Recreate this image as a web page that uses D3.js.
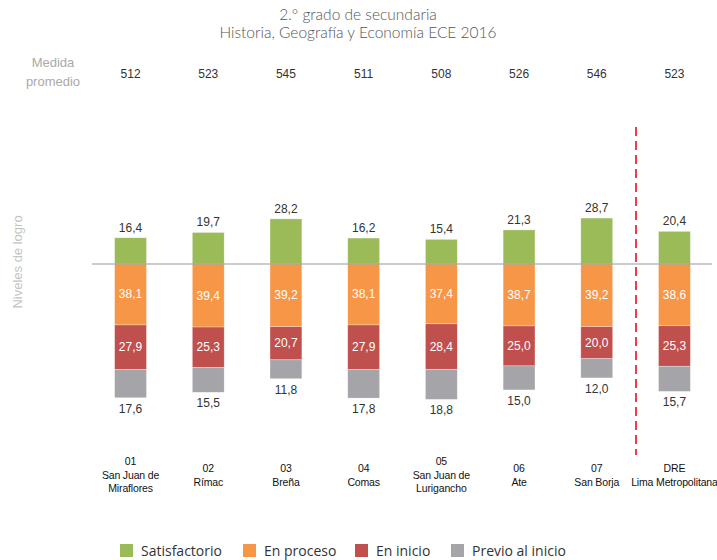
<!DOCTYPE html>
<html>
<head>
<meta charset="utf-8">
<script src="https://cdn.jsdelivr.net/npm/d3@7"></script>
<style>
  body { margin: 0; background: #fff; }
  svg { display: block; }
</style>
</head>
<body>
<div id="chart"></div>
<script>
// Data
const codes = ["01", "02", "03", "04", "05", "06", "07", "DRE"];
const names = [
    ["San Juan de", "Miraflores"],
    ["Rímac"],
    ["Breña"],
    ["Comas"],
    ["San Juan de", "Lurigancho"],
    ["Ate"],
    ["San Borja"],
    ["Lima Metropolitana"]
];
const means = [512, 523, 545, 511, 508, 526, 546, 523];
const satisfactorio = [16.4, 19.7, 28.2, 16.2, 15.4, 21.3, 28.7, 20.4];
const enProceso = [38.1, 39.4, 39.2, 38.1, 37.4, 38.7, 39.2, 38.6];
const enInicio = [27.9, 25.3, 20.7, 27.9, 28.4, 25.0, 20.0, 25.3];
const previo = [17.6, 15.5, 11.8, 17.8, 18.8, 15.0, 12.0, 15.7];

const legendNames = ["Satisfactorio", "En proceso", "En inicio", "Previo al inicio"];
const colors = ["#9bbb59", "#f79646", "#c0504d", "#a5a5a9"];

// Svg size
const svgWidth = 717;
const svgHeight = 560;

const fmt = v => v.toFixed(1).replace(".", ",");

const svg = d3.select("#chart")
              .append("svg")
              .attr("width", svgWidth)
              .attr("height", svgHeight);

// Scales
const xScale = d3.scaleBand()
                 .domain(codes)
                 .range([91.7, 713.3])
                 .paddingInner(0.59)
                 .paddingOuter(0.295);

// positive values go up, negative go down
const yScale = d3.scaleLinear()
                 .domain([40, -100])
                 .range([200, 424]);

// Title
svg.append("g")
   .selectAll("text")
   .data(["2.\u00b0 grado de secundaria", "Historia, Geografía y Economía ECE 2016"])
   .enter()
   .append("text")
   .attr("x", 358)
   .attr("y", (d, i) => 20 + i * 18)
   .attr("text-anchor", "middle")
   .style("font-family", "Lato, sans-serif")
   .style("font-size", "15.5px")
   .style("font-weight", 300)
   .style("fill", "#555")
   .text(d => d);

// Medida promedio
svg.append("g")
   .selectAll("text")
   .data(["Medida", "promedio"])
   .enter()
   .append("text")
   .attr("x", 53)
   .attr("y", (d, i) => 67 + i * 19)
   .attr("text-anchor", "middle")
   .style("font-family", "'Liberation Sans', Arial, sans-serif")
   .style("font-size", "13px")
   .style("fill", "#aaa")
   .text(d => d);

svg.append("g")
   .selectAll("text")
   .data(means)
   .enter()
   .append("text")
   .attr("x", (d, i) => xScale(codes[i]) + xScale.bandwidth() / 2)
   .attr("y", 78)
   .attr("text-anchor", "middle")
   .style("font-family", "'Liberation Sans', Arial, sans-serif")
   .style("font-size", "12px")
   .style("fill", "#333")
   .text(d => d);

// Y label
svg.append("text")
   .attr("transform", `translate(22, 262) rotate(-90)`)
   .attr("text-anchor", "middle")
   .style("font-family", "'Liberation Sans', Arial, sans-serif")
   .style("font-size", "13px")
   .style("fill", "#c4c4c4")
   .text("Niveles de logro");

// Build stacked segments: green above zero, others below
const segments = [];
codes.forEach((c, i) => {
    segments.push({code: c, y0: 0, y1: satisfactorio[i], k: 0, v: satisfactorio[i]});
    let acc = 0;
    [enProceso, enInicio, previo].forEach((arr, j) => {
        segments.push({code: c, y0: -acc, y1: -(acc + arr[i]), k: j + 1, v: arr[i]});
        acc += arr[i];
    });
});

const bars = svg.append("g");
bars.selectAll("rect")
    .data(segments)
    .enter()
    .append("rect")
    .attr("x", d => xScale(d.code))
    .attr("width", xScale.bandwidth())
    .attr("y", d => yScale(Math.max(d.y0, d.y1)))
    .attr("height", d => Math.abs(yScale(d.y0) - yScale(d.y1)))
    .attr("fill", d => colors[d.k])
    .attr("stroke", "#fff")
    .attr("stroke-opacity", 0.5)
    .attr("stroke-width", 0.6);

// Labels
bars.selectAll("text")
    .data(segments)
    .enter()
    .append("text")
    .attr("x", d => xScale(d.code) + xScale.bandwidth() / 2)
    .attr("y", d => {
        if (d.k === 0) return yScale(d.y1) - 6;
        if (d.k === 3) return yScale(d.y1) + 15;
        return (yScale(d.y0) + yScale(d.y1)) / 2 + 4;
    })
    .attr("text-anchor", "middle")
    .style("font-family", "'Liberation Sans', Arial, sans-serif")
    .style("font-size", "12px")
    .style("fill", d => (d.k === 1 || d.k === 2) ? "#fff" : "#333")
    .text(d => fmt(d.v));

// Baseline
svg.append("line")
   .attr("x1", 92)
   .attr("x2", 712)
   .attr("y1", yScale(0))
   .attr("y2", yScale(0))
   .attr("stroke", "#999")
   .attr("stroke-width", 1);

// Red dashed separator
svg.append("line")
   .attr("x1", 636)
   .attr("x2", 636)
   .attr("y1", 127)
   .attr("y2", 455)
   .attr("stroke", "#f03c4a")
   .attr("stroke-width", 2)
   .attr("stroke-dasharray", "9,5");

// Category labels
const catGroup = svg.append("g");
codes.forEach((c, i) => {
    const lines = [c].concat(names[i]);
    const startY = lines.length === 3 ? 465 : 472;
    catGroup.append("g")
            .selectAll("text")
            .data(lines)
            .enter()
            .append("text")
            .attr("x", xScale(c) + xScale.bandwidth() / 2)
            .attr("y", (d, j) => startY + j * 13.5)
            .attr("text-anchor", "middle")
            .style("font-family", "'Liberation Sans', Arial, sans-serif")
            .style("font-size", "10.5px")
            .style("letter-spacing", "-0.15px")
            .style("fill", "#111")
            .text(d => d);
});

// Legend
const legendX = [120, 243, 355, 451];
const legend = svg.append("g")
                  .selectAll("g")
                  .data(legendNames)
                  .enter()
                  .append("g")
                  .attr("transform", (d, i) => `translate(${legendX[i]}, 544)`);
legend.append("rect")
      .attr("width", 13)
      .attr("height", 13)
      .attr("fill", (d, i) => colors[i]);
legend.append("text")
      .attr("x", 21)
      .attr("y", 12)
      .style("font-family", "'Open Sans', sans-serif")
      .style("font-size", "14px")
      .style("fill", "#333")
      .text(d => d);
</script>
</body>
</html>
